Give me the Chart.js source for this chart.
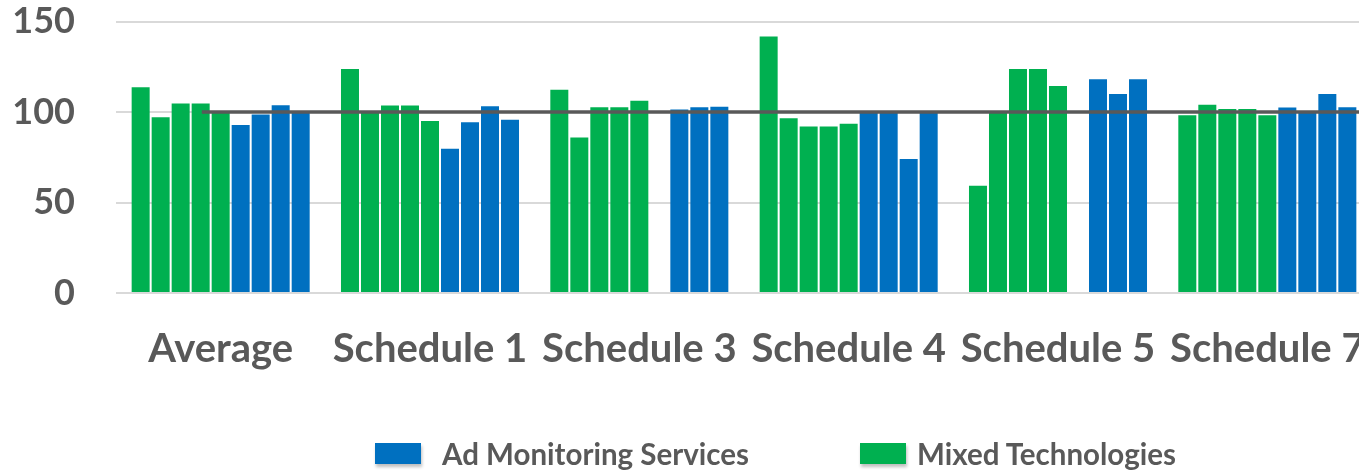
<!DOCTYPE html>
<html>
<head>
<meta charset="utf-8">
<script src="https://cdn.jsdelivr.net/npm/chart.js@4.4.1/dist/chart.umd.min.js"></script>
<style>
  html, body { margin: 0; padding: 0; background: #fff; overflow: hidden; }
  #wrap { position: relative; width: 1372px; height: 476px; }
  .leg { position: absolute; display: flex; align-items: center; font-family: Lato, sans-serif; font-weight: bold; font-size: 29.5px; color: #595959; }
  .leg .box { width: 46px; height: 21px; box-shadow: 1px 3px 3px rgba(0,0,0,0.25); }
</style>
</head>
<body>
<div id="wrap">
  <canvas id="chart"></canvas>
  <div class="leg" style="left:375px; top:436px;"><span class="box" id="boxAd"></span><span style="margin-left:21px">Ad Monitoring Services</span></div>
  <div class="leg" style="left:860px; top:436px;"><span class="box" id="boxMixed"></span><span style="margin-left:11px">Mixed Technologies</span></div>
</div>
<script>
const categories = ["Average", "Schedule 1", "Schedule 3", "Schedule 4", "Schedule 5", "Schedule 7"];

// Mixed Technologies, five bars per category
const mixed1 = [113.7, 123.8, 112.4, 141.8, 59.3, 98.3];
const mixed2 = [97.2, 100, 85.9, 96.6, 100, 104.1];
const mixed3 = [104.7, 103.6, 102.7, 92, 123.8, 101.7];
const mixed4 = [104.7, 103.6, 102.7, 92, 123.8, 101.7];
const mixed5 = [100, 95, 106.2, 93.6, 114.4, 98.3];

// Ad Monitoring Services, four bars per category (first slot empty for Schedule 3 and 5)
const adMon1 = [92.9, 79.7, null, 100, null, 102.5];
const adMon2 = [98.6, 94.4, 101.4, 100, 118.1, 100];
const adMon3 = [103.8, 103.2, 102.7, 74, 110, 110];
const adMon4 = [100, 95.7, 103, 100, 118.1, 102.7];

// reference line at 100, starts a bit left of the "Average" centre (category units)
const refValue = 100;
const refFrom = -0.09;

const yTicks = [0, 50, 100, 150];

const GREEN = "#00B050";
const BLUE = "#0070C0";
const TEXT = "#595959";

document.getElementById("boxAd").style.background = BLUE;
document.getElementById("boxMixed").style.background = GREEN;

const barOpts = { categoryPercentage: 0.86, barPercentage: 0.9 };

const mixedSets = [mixed1, mixed2, mixed3, mixed4, mixed5].map(d => ({
  label: "Mixed Technologies", data: d, backgroundColor: GREEN, ...barOpts
}));
const adSets = [adMon1, adMon2, adMon3, adMon4].map(d => ({
  label: "Ad Monitoring Services", data: d, backgroundColor: BLUE, ...barOpts
}));

// reference line, placed with the chart's own x and y scales
const refLine = {
  id: "refLine",
  afterDatasetsDraw(chart) {
    const { ctx, chartArea, scales } = chart;
    const y = scales.y.getPixelForValue(refValue);
    const x0 = scales.x.getPixelForValue(refFrom);
    ctx.save();
    ctx.beginPath();
    ctx.rect(chartArea.left, chartArea.top - 5, chartArea.width, chartArea.height + 10);
    ctx.clip();
    ctx.strokeStyle = "#595959";
    ctx.lineWidth = 3.5;
    ctx.beginPath();
    ctx.moveTo(x0, y);
    ctx.lineTo(chartArea.right, y);
    ctx.stroke();
    ctx.restore();
  }
};

new Chart(document.getElementById("chart"), {
  type: "bar",
  data: {
    labels: categories,
    datasets: [...mixedSets, ...adSets]
  },
  plugins: [refLine],
  options: {
    responsive: true,
    maintainAspectRatio: false,
    animation: false,
    plugins: {
      legend: { display: false },
      tooltip: { enabled: false }
    },
    scales: {
      x: {
        grid: { color: "rgba(0,0,0,0)", drawOnChartArea: false, tickLength: 32, tickColor: "rgba(0,0,0,0)" },
        border: { display: false },
        ticks: {
          color: TEXT,
          padding: 0,
          maxRotation: 0,
          font: { family: "Lato", weight: "bold", size: 40 }
        },
        afterFit: s => { s.height = 183; }
      },
      y: {
        min: 0,
        max: 150,
        afterBuildTicks: s => { s.ticks = yTicks.map(v => ({ value: v })); },
        grid: { color: "#d9d9d9", lineWidth: 2, tickLength: 41, tickColor: "rgba(0,0,0,0)" },
        border: { display: false },
        ticks: {
          color: TEXT,
          padding: 0,
          font: { family: "Lato", weight: "bold", size: 36 }
        },
        afterFit: s => { s.width = 116; }
      }
    }
  }
});
</script>
</body>
</html>
